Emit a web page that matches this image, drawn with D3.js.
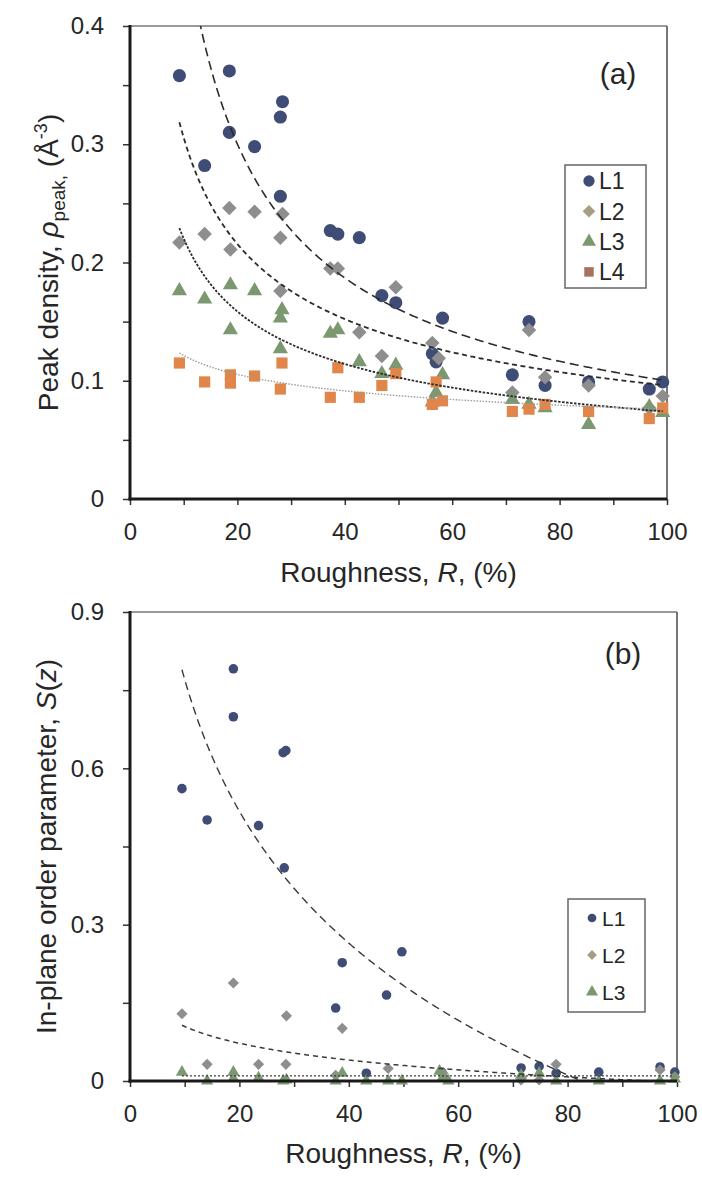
<!DOCTYPE html>
<html>
<head>
<meta charset="utf-8">
<script src="https://cdn.jsdelivr.net/npm/d3@7"></script>
<style>
  body { margin: 0; background: #fff; }
  text { font-family: "Liberation Sans", Arial, sans-serif; fill: #262626; }
</style>
</head>
<body>
<svg id="chart" width="702" height="1177"></svg>
<script>
// ---------- Panel (a): peak density vs roughness ----------
const seriesNames = ["L1", "L2", "L3", "L4"];

const aL1x = [9.2, 13.9, 18.5, 18.5, 23.2, 28.0, 28.0, 28.4, 37.3, 38.7, 42.7, 46.9, 49.5, 56.3, 57.0, 58.2, 71.2, 74.3, 77.3, 85.4, 96.7, 99.2];
const aL1y = [0.358, 0.282, 0.362, 0.310, 0.298, 0.256, 0.323, 0.336, 0.227, 0.224, 0.221, 0.172, 0.166, 0.123, 0.116, 0.153, 0.105, 0.150, 0.096, 0.099, 0.093, 0.099];

const aL2x = [9.2, 13.9, 18.5, 18.7, 23.2, 28.0, 28.0, 28.4, 37.3, 38.7, 42.7, 46.9, 49.5, 56.3, 57.5, 71.2, 74.3, 77.3, 85.4, 96.7, 99.2];
const aL2y = [0.217, 0.224, 0.246, 0.211, 0.243, 0.221, 0.176, 0.241, 0.195, 0.195, 0.141, 0.121, 0.179, 0.132, 0.119, 0.090, 0.143, 0.103, 0.096, 0.077, 0.087];

const aL3x = [9.2, 13.9, 18.7, 18.7, 23.2, 28.0, 28.0, 28.3, 37.3, 38.7, 42.7, 46.9, 49.5, 56.3, 57.0, 58.2, 71.2, 74.3, 77.3, 85.4, 96.7, 99.2];
const aL3y = [0.176, 0.169, 0.181, 0.143, 0.176, 0.127, 0.153, 0.160, 0.140, 0.143, 0.116, 0.106, 0.113, 0.082, 0.090, 0.105, 0.084, 0.080, 0.077, 0.063, 0.078, 0.073];

const aL4x = [9.2, 13.9, 18.7, 18.7, 23.2, 28.0, 28.3, 37.3, 38.7, 42.7, 46.9, 49.5, 56.3, 57.0, 58.2, 71.2, 74.3, 77.3, 85.4, 96.7, 99.2];
const aL4y = [0.115, 0.099, 0.105, 0.098, 0.104, 0.093, 0.115, 0.086, 0.111, 0.086, 0.096, 0.106, 0.080, 0.099, 0.083, 0.074, 0.076, 0.080, 0.074, 0.068, 0.077];

// power-law trendlines  y = a * R^b
const aFitA = [2.322, 0.973, 0.656, 0.1944];
const aFitB = [-0.683, -0.503, -0.474, -0.2045];
const aFitRange = [9.2, 99.2];

// ---------- Panel (b): in-plane order parameter vs roughness ----------
const bL1x = [9.5, 14.1, 18.9, 18.9, 23.5, 28.0, 28.5, 28.2, 37.6, 38.8, 43.2, 46.9, 49.7, 57.0, 71.5, 74.8, 77.9, 85.7, 96.9, 99.6];
const bL1y = [0.561, 0.501, 0.791, 0.699, 0.490, 0.630, 0.634, 0.409, 0.140, 0.227, 0.015, 0.165, 0.248, 0.017, 0.025, 0.028, 0.015, 0.017, 0.027, 0.017];

const bL2x = [9.5, 14.1, 18.9, 23.5, 28.5, 28.6, 37.6, 38.8, 47.2, 57.2, 71.5, 74.8, 77.9, 96.9, 99.6];
const bL2y = [0.129, 0.032, 0.188, 0.032, 0.032, 0.125, 0.011, 0.101, 0.024, 0.015, 0.002, 0.002, 0.032, 0.021, 0.008];

const bL3x = [9.5, 14.1, 18.9, 18.9, 23.5, 28.0, 28.6, 37.6, 38.8, 43.2, 47.2, 49.7, 56.6, 57.2, 58.2, 71.5, 74.8, 77.9, 85.7, 96.9, 99.6];
const bL3y = [0.017, 0.0, 0.017, 0.005, 0.006, 0.0, 0.002, 0.0, 0.015, 0.0, 0.0, 0.0, 0.019, 0.008, 0.0, 0.011, 0.015, 0.0, 0.0, 0.0, 0.004];

// logarithmic trendlines  y = a + b * ln(R)
const bFitA = [1.611, 0.2117, 0.010];
const bFitB = [-0.365, -0.0465, 0.0];
const bFitRange = [9.5, 99.6];

// axis ticks
const xTicks = [0, 10, 20, 30, 40, 50, 60, 70, 80, 90, 100];
const xTickLabels = ["0", "", "20", "", "40", "", "60", "", "80", "", "100"];
const aYTicks = [0, 0.05, 0.1, 0.15, 0.2, 0.25, 0.3, 0.35, 0.4];
const aYTickLabels = ["0", "", "0.1", "", "0.2", "", "0.3", "", "0.4"];
const bYTicks = [0, 0.15, 0.3, 0.45, 0.6, 0.75, 0.9];
const bYTickLabels = ["0", "", "0.3", "", "0.6", "", "0.9"];

// ---------- styling ----------
const markerFill = { L1: "#3f4c76", L2: "#8e8e8e", L3: "#7b9870", L4: "#e0864a" };
const legendFill = { L1: "#3f4c76", L2: "#a79e82", L3: "#7b9870", L4: "#a8705e" };
const shapes = { L1: d3.symbolCircle, L2: d3.symbolSquare, L3: d3.symbolTriangle, L4: d3.symbolSquare };

const svg = d3.select("#chart");

function drawPanel(cfg) {
  const x = d3.scaleLinear().domain([0, 100]).range([cfg.left, cfg.right]);
  const y = d3.scaleLinear().domain([0, cfg.yMax]).range([cfg.bottom, cfg.top]);
  const g = svg.append("g");

  const clipId = "clip-" + cfg.tag;
  svg.append("clipPath").attr("id", clipId)
    .append("rect").attr("x", cfg.left).attr("y", cfg.top)
    .attr("width", cfg.right - cfg.left).attr("height", cfg.bottom - cfg.top);

  // frame: light top/right, heavy left/bottom
  g.append("line").attr("x1", cfg.left).attr("x2", cfg.right).attr("y1", cfg.top).attr("y2", cfg.top)
    .attr("stroke", "#9a9a9a").attr("stroke-width", 2);
  g.append("line").attr("x1", cfg.right).attr("x2", cfg.right).attr("y1", cfg.top).attr("y2", cfg.bottom)
    .attr("stroke", "#555").attr("stroke-width", 1.6);

  // axes
  const yAxis = d3.axisLeft(y).tickValues(cfg.yTicks).tickSize(7).tickPadding(19)
    .tickFormat((d, i) => cfg.yTickLabels[i]);
  const xAxis = d3.axisBottom(x).tickValues(xTicks).tickSize(6).tickPadding(18)
    .tickFormat((d, i) => xTickLabels[i]);

  const ya = g.append("g").attr("transform", `translate(${cfg.left},0)`).call(yAxis);
  const xa = g.append("g").attr("transform", `translate(0,${cfg.bottom})`).call(xAxis);
  [ya, xa].forEach(a => {
    a.select(".domain").remove();
    a.selectAll(".tick line").attr("stroke", "#333").attr("stroke-width", 1.5);
    a.selectAll(".tick text").attr("font-size", 24).style("fill", "#262626")
      .attr("font-family", '"Liberation Sans", Arial, sans-serif');
  });

  // markers
  const pts = g.append("g");
  cfg.series.forEach(s => {
    const data = s.xs.map((v, i) => [v, s.ys[i]]);
    const sym = d3.symbol().type(shapes[s.name]).size(cfg.sizes[s.name]);
    pts.selectAll(null).data(data).enter().append("path")
      .attr("d", sym)
      .attr("transform", d => `translate(${x(d[0])},${y(d[1])})` + (s.name === "L2" ? " rotate(45)" : ""))
      .attr("fill", markerFill[s.name]);
  });

  // trendlines
  const lines = g.append("g").attr("clip-path", `url(#${clipId})`);
  const line = d3.line().x(d => x(d[0])).y(d => y(d[1]));
  cfg.fits.forEach(f => {
    const xs = d3.range(cfg.fitRange[0], cfg.fitRange[1] + 0.001, 0.2);
    const data = xs.map(v => [v, f.fn(v)]).filter(d => d[1] >= 0);
    lines.append("path").attr("d", line(data)).attr("fill", "none")
      .attr("stroke", f.color).attr("stroke-width", f.width).attr("stroke-dasharray", f.dash);
  });

  // heavy axis lines
  g.append("line").attr("x1", cfg.left).attr("x2", cfg.left).attr("y1", cfg.top - 1).attr("y2", cfg.bottom + 1.5)
    .attr("stroke", "#1a1a1a").attr("stroke-width", 3);
  g.append("line").attr("x1", cfg.left - 1.5).attr("x2", cfg.right).attr("y1", cfg.bottom).attr("y2", cfg.bottom)
    .attr("stroke", "#1a1a1a").attr("stroke-width", 3);

  // panel tag
  g.append("text").attr("x", cfg.tagX).attr("y", cfg.tagY).attr("text-anchor", "middle")
    .attr("font-size", 30).text(cfg.tagText);

  // x title
  const xt = g.append("text").attr("x", (cfg.left + cfg.right) / 2).attr("y", cfg.xTitleY)
    .attr("text-anchor", "middle").attr("font-size", 28);
  xt.append("tspan").text("Roughness, ");
  xt.append("tspan").attr("font-style", "italic").text("R");
  xt.append("tspan").text(", (%)");

  // y title
  const yt = g.append("text")
    .attr("transform", `translate(${cfg.yTitleX},${(cfg.top + cfg.bottom) / 2}) rotate(-90)`)
    .attr("text-anchor", "middle").attr("font-size", 28);
  cfg.yTitle(yt);

  // legend
  const lg = g.append("g");
  lg.append("rect").attr("x", cfg.legend.x).attr("y", cfg.legend.y)
    .attr("width", cfg.legend.w).attr("height", cfg.legend.h)
    .attr("fill", "#fff").attr("stroke", "#666").attr("stroke-width", 1.5);
  cfg.series.forEach((s, i) => {
    const cy = cfg.legend.y + cfg.legend.first + i * cfg.legend.step;
    const sym = d3.symbol().type(shapes[s.name]).size(cfg.legend.sizes[s.name]);
    lg.append("path").attr("d", sym)
      .attr("transform", `translate(${cfg.legend.x + 24},${cy})` + (s.name === "L2" ? " rotate(45)" : ""))
      .attr("fill", legendFill[s.name]);
    lg.append("text").attr("x", cfg.legend.x + 34).attr("y", cy).attr("dy", "0.36em")
      .attr("font-size", cfg.legend.font).text(s.name);
  });
}

drawPanel({
  tag: "a", tagText: "(a)", tagX: 618, tagY: 84,
  left: 130, right: 667, top: 26, bottom: 499, yMax: 0.4,
  yTicks: aYTicks, yTickLabels: aYTickLabels,
  xTitleY: 582, yTitleX: 58,
  series: [
    { name: "L1", xs: aL1x, ys: aL1y },
    { name: "L2", xs: aL2x, ys: aL2y },
    { name: "L3", xs: aL3x, ys: aL3y },
    { name: "L4", xs: aL4x, ys: aL4y }
  ],
  sizes: { L1: 135, L2: 105, L3: 100, L4: 125 },
  fitRange: aFitRange,
  fits: [
    { fn: v => aFitA[0] * Math.pow(v, aFitB[0]), color: "#2b2b2b", width: 1.6, dash: "9,5" },
    { fn: v => aFitA[1] * Math.pow(v, aFitB[1]), color: "#2b2b2b", width: 1.8, dash: "5,3.5" },
    { fn: v => aFitA[2] * Math.pow(v, aFitB[2]), color: "#2b2b2b", width: 1.8, dash: "2.5,1.5" },
    { fn: v => aFitA[3] * Math.pow(v, aFitB[3]), color: "#9c9c9c", width: 1.4, dash: "1.5,1.5" }
  ],
  yTitle: t => {
    t.append("tspan").text("Peak density, ");
    t.append("tspan").attr("font-style", "italic").text("ρ");
    t.append("tspan").attr("font-size", 19).attr("dy", 7).text("peak,");
    t.append("tspan").attr("dy", -7).text(" (Å");
    t.append("tspan").attr("font-size", 18).attr("dy", -11).text("-3");
    t.append("tspan").attr("dy", 11).text(")");
  },
  legend: { x: 565, y: 165, w: 81, h: 123, first: 16, step: 30.3, font: 23,
            sizes: { L1: 100, L2: 80, L3: 85, L4: 90 } }
});

drawPanel({
  tag: "b", tagText: "(b)", tagX: 623, tagY: 664,
  left: 130, right: 677, top: 612, bottom: 1081, yMax: 0.9,
  yTicks: bYTicks, yTickLabels: bYTickLabels,
  xTitleY: 1163, yTitleX: 56,
  series: [
    { name: "L1", xs: bL1x, ys: bL1y },
    { name: "L2", xs: bL2x, ys: bL2y },
    { name: "L3", xs: bL3x, ys: bL3y }
  ],
  sizes: { L1: 72, L2: 62, L3: 66 },
  fitRange: bFitRange,
  fits: [
    { fn: v => bFitA[0] + bFitB[0] * Math.log(v), color: "#3a3a3a", width: 1.4, dash: "8,5" },
    { fn: v => bFitA[1] + bFitB[1] * Math.log(v), color: "#3a3a3a", width: 1.5, dash: "5,4" },
    { fn: v => bFitA[2] + bFitB[2] * Math.log(v), color: "#3a3a3a", width: 1.2, dash: "2,2" }
  ],
  yTitle: t => {
    t.append("tspan").text("In-plane order parameter, ");
    t.append("tspan").attr("font-style", "italic").text("S");
    t.append("tspan").text("(");
    t.append("tspan").attr("font-style", "italic").text("z");
    t.append("tspan").text(")");
  },
  legend: { x: 568, y: 899, w: 77, h: 113, first: 19, step: 37, font: 21,
            sizes: { L1: 60, L2: 48, L3: 64 } }
});
</script>
</body>
</html>
